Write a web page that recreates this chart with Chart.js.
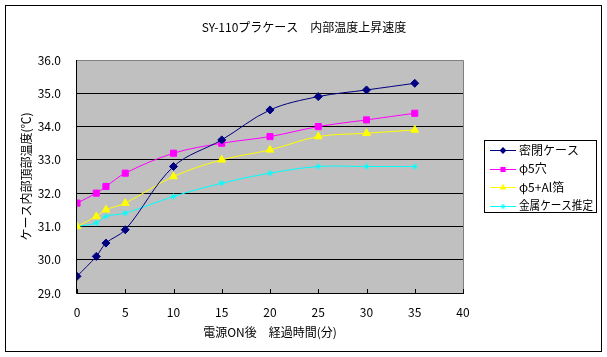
<!DOCTYPE html>
<html><head><meta charset="utf-8">
<script src="https://cdn.jsdelivr.net/npm/chart.js@4/dist/chart.umd.min.js"></script>
<style>html,body{margin:0;padding:0;background:#fff}#wrap{width:607px;height:357px;position:relative}</style>
</head><body><div id="wrap"><canvas id="c" width="607" height="357"></canvas></div>
<script>
const chartTitle='SY-110プラケース\u3000内部温度上昇速度';
const xAxisTitle='電源ON後\u3000経過時間(分)';
const yAxisTitle='ケース内部頂部温度(℃)';
const minutes=[0,2,3,5,10,15,20,25,30,35];
const sealed=[29.5,30.1,30.5,30.9,32.8,33.6,34.5,34.9,35.1,35.3];
const hole5=[31.7,32.0,32.2,32.6,33.2,33.5,33.7,34.0,34.2,34.4];
const hole5Al=[31.0,31.3,31.5,31.7,32.5,33.0,33.3,33.7,33.8,33.9];
const metalEst=[31.0,31.1,31.3,31.4,31.9,32.3,32.6,32.8,32.8,32.8];
const seriesNames=['密閉ケース','φ5穴','φ5+Al箔','金属ケース推定'];
const xTickValues=[0,5,10,15,20,25,30,35,40];
const yTickLabels=['29.0','30.0','31.0','32.0','33.0','34.0','35.0','36.0'];

const FONT='"Noto Sans CJK JP","MS PGothic",sans-serif';
const colors=['#000080','#FF00FF','#FFFF00','#00FFFF'];
const styles=['rectRot','rect','triangle','star'];
const radii=[4,4.3,4.5,3];
const seriesValues=[sealed,hole5,hole5Al,metalEst];

function pts(vals){return minutes.map((m,i)=>({x:m,y:vals[i]}));}

function drawMarker(ctx,style,x,y,r,color){
  ctx.save();ctx.fillStyle=color;ctx.strokeStyle=color;ctx.lineWidth=1;ctx.beginPath();
  if(style==='rectRot'){ctx.moveTo(x-r,y);ctx.lineTo(x,y-r);ctx.lineTo(x+r,y);ctx.lineTo(x,y+r);ctx.closePath();ctx.fill();}
  else if(style==='rect'){const s=Math.SQRT1_2*r;ctx.rect(x-s,y-s,2*s,2*s);ctx.fill();}
  else if(style==='triangle'){ctx.moveTo(x,y-r);ctx.lineTo(x+r*0.87,y+r*0.5);ctx.lineTo(x-r*0.87,y+r*0.5);ctx.closePath();ctx.fill();}
  else {const s=r*0.7;ctx.moveTo(x-s,y-s);ctx.lineTo(x+s,y+s);ctx.moveTo(x-s,y+s);ctx.lineTo(x+s,y-s);ctx.moveTo(x,y-r);ctx.lineTo(x,y+r);ctx.stroke();}
  ctx.restore();
}

const decor={
  id:'decor',
  beforeDraw(chart){
    const ctx=chart.ctx,a=chart.chartArea;
    ctx.save();
    ctx.fillStyle='#fff';ctx.fillRect(0,0,chart.width,chart.height);
    ctx.strokeStyle='#000';ctx.lineWidth=1;ctx.strokeRect(5.5,5.5,596,346);
    ctx.fillStyle='#C0C0C0';ctx.fillRect(a.left,a.top,a.right-a.left,a.bottom-a.top);
    ctx.restore();
  },
  beforeDatasetsDraw(chart){
    const ctx=chart.ctx,a=chart.chartArea;
    ctx.save();
    ctx.strokeStyle='#808080';ctx.lineWidth=1;
    ctx.beginPath();ctx.moveTo(a.left,a.top+0.5);ctx.lineTo(a.right+0.5,a.top+0.5);ctx.lineTo(a.right+0.5,a.bottom);ctx.stroke();
    ctx.strokeStyle='#000';
    ctx.beginPath();ctx.moveTo(a.left-0.5,a.top);ctx.lineTo(a.left-0.5,a.bottom+0.5);ctx.lineTo(a.right+1,a.bottom+0.5);ctx.stroke();
    const xs=chart.scales.x;
    ctx.beginPath();
    xTickValues.forEach(v=>{const px=Math.round(xs.getPixelForValue(v))+0.5;ctx.moveTo(px,a.bottom);ctx.lineTo(px,a.bottom-4);});
    ctx.stroke();
    ctx.restore();
  },
  afterDraw(chart){
    const ctx=chart.ctx,a=chart.chartArea;
    ctx.save();
    ctx.fillStyle='#000';ctx.font='12px '+FONT;ctx.textAlign='center';ctx.textBaseline='middle';
    ctx.fillText(chartTitle,304,27,212);
    ctx.fillText(xAxisTitle,(a.left+a.right)/2,332,140);
    ctx.save();ctx.translate(26,(a.top+a.bottom)/2);ctx.rotate(-Math.PI/2);ctx.fillText(yAxisTitle,0,0,138);ctx.restore();
    // legend
    ctx.fillStyle='#fff';ctx.fillRect(484.5,140.5,112,72);
    ctx.strokeStyle='#000';ctx.lineWidth=1;ctx.strokeRect(484.5,140.5,112,72);
    ctx.textAlign='left';
    const rows=[150,168.5,187,205.5];
    seriesNames.forEach((n,i)=>{
      const y=rows[i];
      ctx.strokeStyle=colors[i];ctx.beginPath();ctx.moveTo(490,Math.round(y)+0.5);ctx.lineTo(516,Math.round(y)+0.5);ctx.stroke();
      drawMarker(ctx,styles[i],503,Math.round(y)+0.5,radii[i]*0.85,colors[i]);
      ctx.fillStyle='#000';ctx.fillText(n,519,y,74);
    });
    ctx.restore();
  }
};

new Chart(document.getElementById('c'),{
  type:'line',
  data:{datasets:seriesNames.map((n,i)=>({
    label:n,data:pts(seriesValues[i]),borderColor:colors[i],backgroundColor:colors[i],
    borderWidth:1,tension:0.35,pointStyle:styles[i],pointRadius:radii[i],pointBorderWidth:1,
    pointBorderColor:colors[i],pointBackgroundColor:colors[i],fill:false
  }))},
  options:{
    responsive:false,animation:false,devicePixelRatio:1,
    layout:{padding:{left:0,top:60,right:144,bottom:0}},
    plugins:{legend:{display:false},title:{display:false},tooltip:{enabled:false}},
    scales:{
      x:{type:'linear',min:0,max:40,
        afterBuildTicks(s){s.ticks=xTickValues.map(v=>({value:v}));},
        afterFit(s){s.height=64;},
        grid:{display:false,drawTicks:false},border:{display:false},
        ticks:{color:'#000',font:{family:FONT,size:12},padding:12,maxRotation:0,autoSkip:false}},
      y:{type:'linear',min:29,max:36,
        afterBuildTicks(s){s.ticks=yTickLabels.map((l,i)=>({value:29+i}));},
        afterFit(s){s.width=77;},
        grid:{color:(c)=>c.tick&&c.tick.value===36?'rgba(0,0,0,0)':'#000',lineWidth:1,drawTicks:false},
        border:{display:false},
        ticks:{color:'#000',font:{family:FONT,size:12},padding:16,autoSkip:false,
          callback:(v)=>yTickLabels[Math.round(v)-29]}}
    }
  },
  plugins:[decor]
});
</script></body></html>
